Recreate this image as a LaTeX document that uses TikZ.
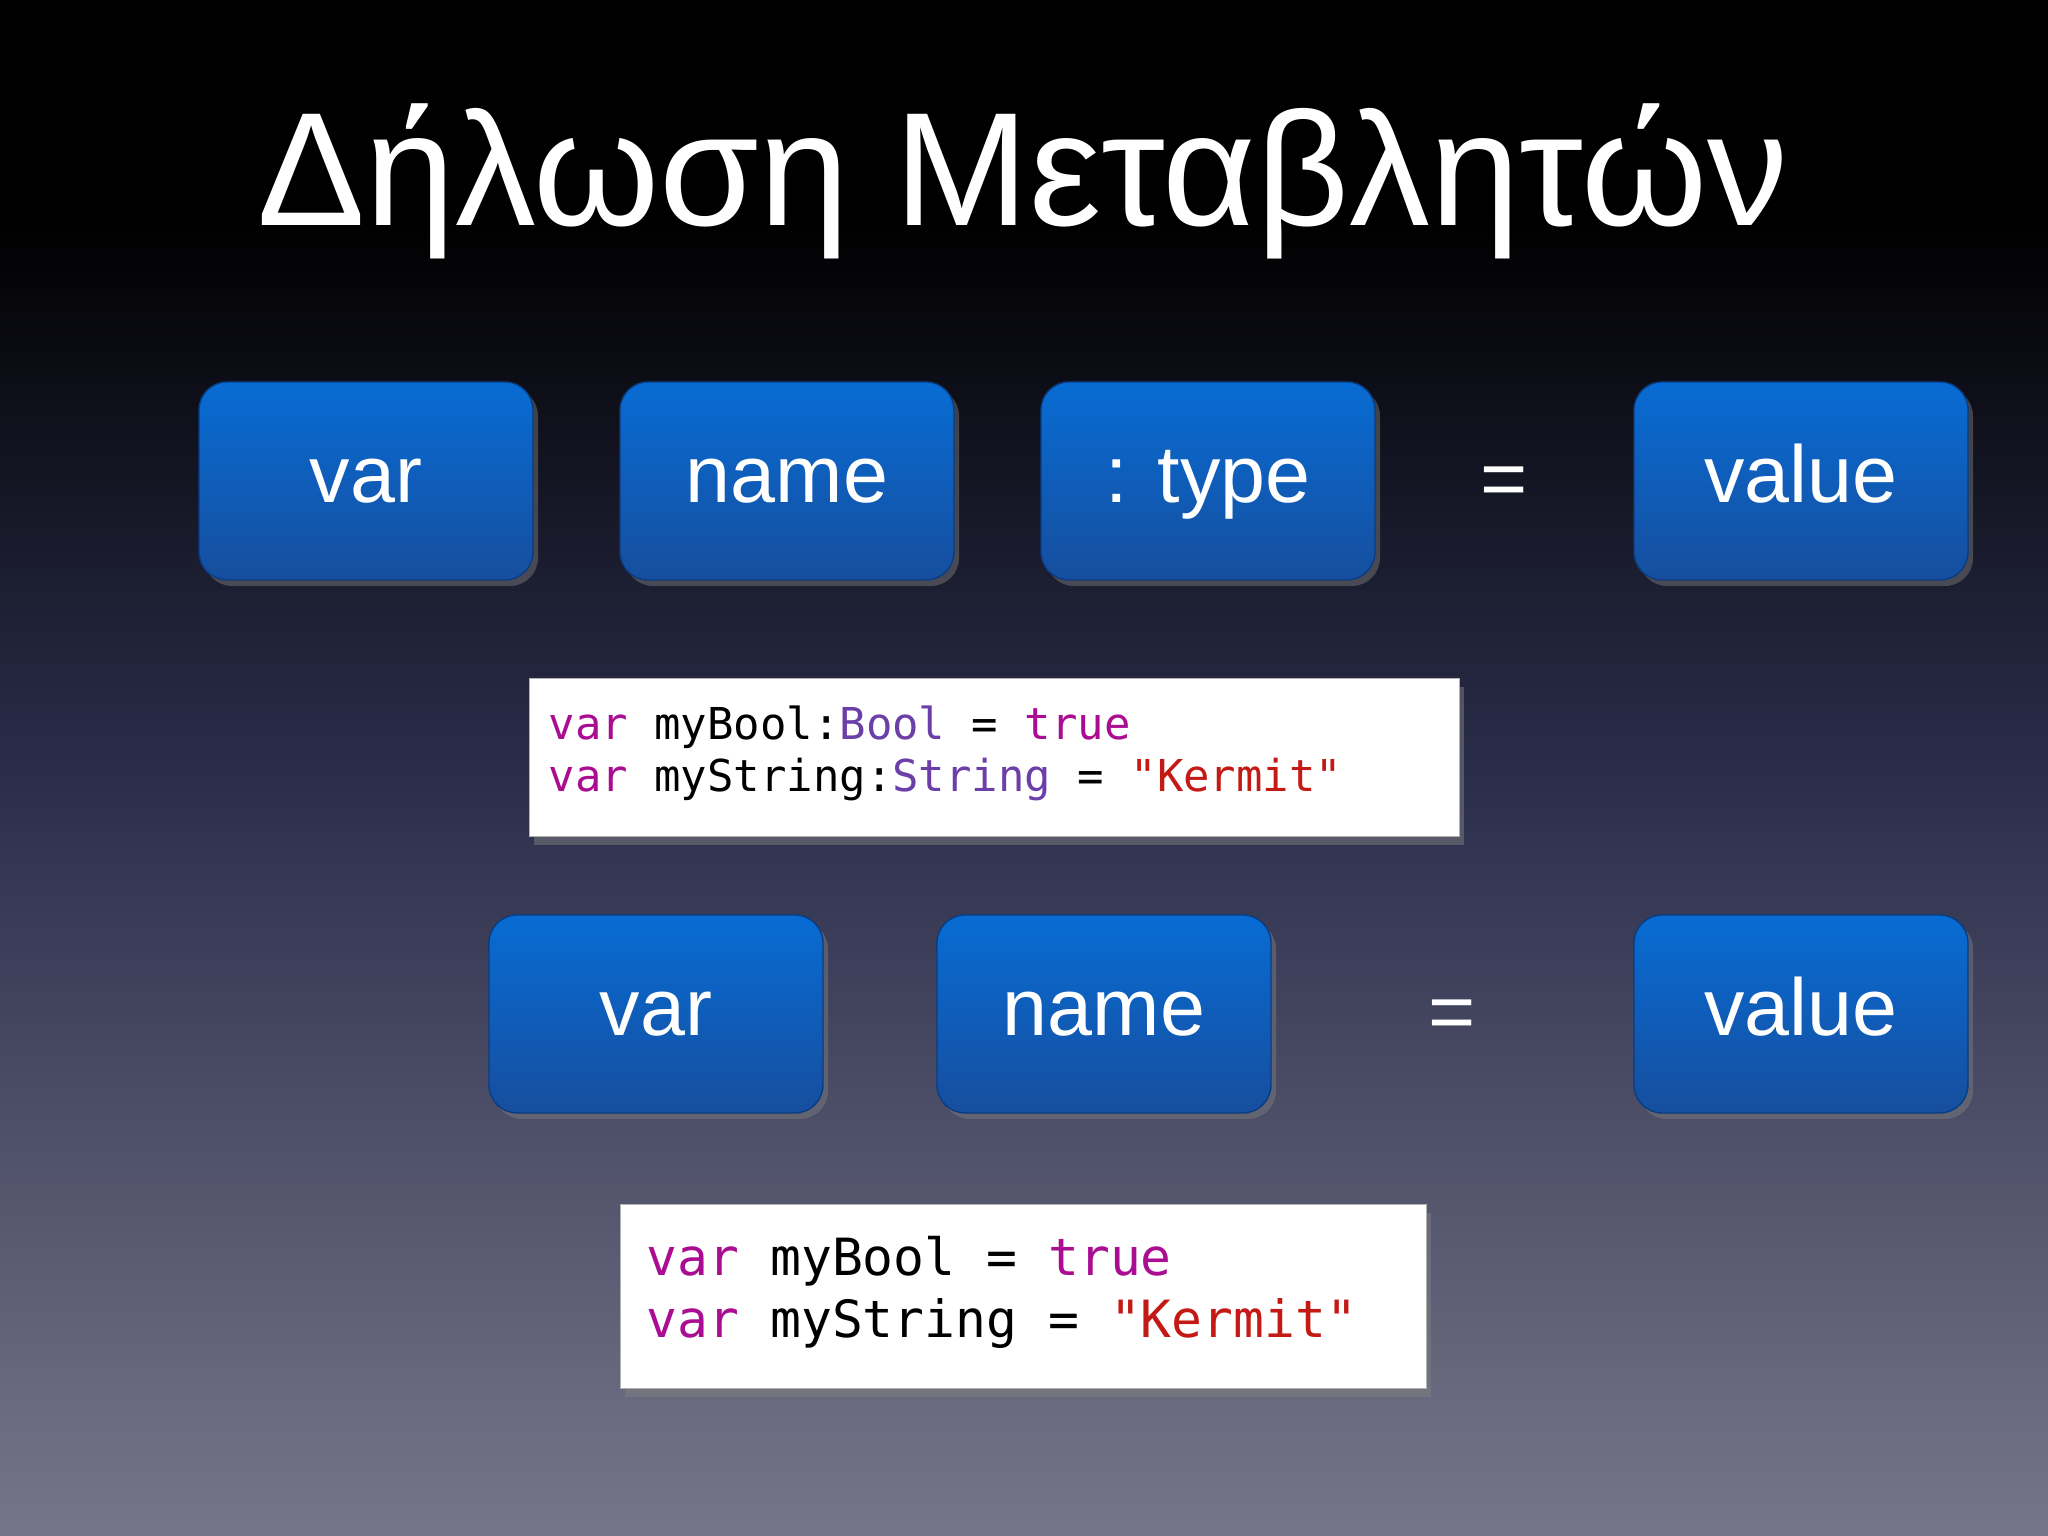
\documentclass[tikz,border=0pt]{standalone}
\usepackage{fontspec}
\setmainfont{Liberation Sans}
\newfontfamily\codefont{DejaVu Sans Mono}
\usetikzlibrary{shadows}
\definecolor{kw}{HTML}{AA0D91}
\definecolor{ty}{HTML}{6C3FA8}
\definecolor{st}{HTML}{C41A16}
\tikzset{
 blk/.style={rounded corners=0.28cm, top color={rgb,255:red,8;green,108;blue,212}, bottom color={rgb,255:red,22;green,78;blue,158},
   draw={rgb,255:red,10;green,60;blue,130}, line width=0.4pt, text=white, font=\fontsize{23}{26}\selectfont,
   minimum width=3.34cm, minimum height=1.98cm, inner sep=0pt, text height=0.6cm, text depth=0.16cm,
   drop shadow={opacity=0.45,shadow xshift=0.05cm,shadow yshift=-0.06cm}},
 eq/.style={text=white, font=\fontsize{23}{26}\selectfont},
 codebox/.style={fill=white, draw=gray!60, anchor=north west, inner sep=0pt, drop shadow={opacity=0.5,shadow xshift=0.04cm,shadow yshift=-0.08cm}},
}
\begin{document}
\begin{tikzpicture}
\fill[black] (0,0) rectangle (20.48,15.36);
\fill[black] (0,15.36) rectangle (20.48,13.2);
\shade[top color=black, bottom color={rgb,255:red,42;green,45;blue,74}] (0,13.21) rectangle (20.48,7.68);
\shade[top color={rgb,255:red,42;green,45;blue,74}, bottom color={rgb,255:red,118;green,118;blue,138}] (0,7.69) rectangle (20.48,0);
\useasboundingbox (0,0) rectangle (20.48,15.36);
\node[text=white, font=\fontsize{46}{50}\selectfont] (title) at (10.23,13.55) {Δήλωση Μεταβλητών};
% row 1
\node[blk] (v1) at (3.66,10.55) {var};
\node[blk] (n1) at (7.87,10.55) {name};
\node[blk] (t1) at (12.08,10.55) {: type};
\node[eq] (e1) at (15.04,10.49) {=};
\node[blk] (val1) at (18.01,10.55) {value};
% code 1
\node[codebox, minimum width=9.3cm, minimum height=1.58cm] (c1) at (5.29,8.58) {};
\node[anchor=north west, align=left, font=\codefont\fontsize{12.5}{14.8}\selectfont, inner sep=0pt] (c1t) at (5.48,8.31)
 {\textcolor{kw}{var} myBool:\textcolor{ty}{Bool} = \textcolor{kw}{true}\\
  \textcolor{kw}{var} myString:\textcolor{ty}{String} = \textcolor{st}{"Kermit"}};
% row 2
\node[blk] (v2) at (6.56,5.22) {var};
\node[blk] (n2) at (11.04,5.22) {name};
\node[eq] (e2) at (14.52,5.16) {=};
\node[blk] (val2) at (18.01,5.22) {value};
% code 2
\node[codebox, minimum width=8.06cm, minimum height=1.84cm] (c2) at (6.20,3.32) {};
\node[anchor=north west, align=left, font=\codefont\fontsize{14.6}{17.6}\selectfont, inner sep=0pt] (c2t) at (6.46,3.00)
 {\textcolor{kw}{var} myBool = \textcolor{kw}{true}\\
  \textcolor{kw}{var} myString = \textcolor{st}{"Kermit"}};
\end{tikzpicture}
\end{document}
